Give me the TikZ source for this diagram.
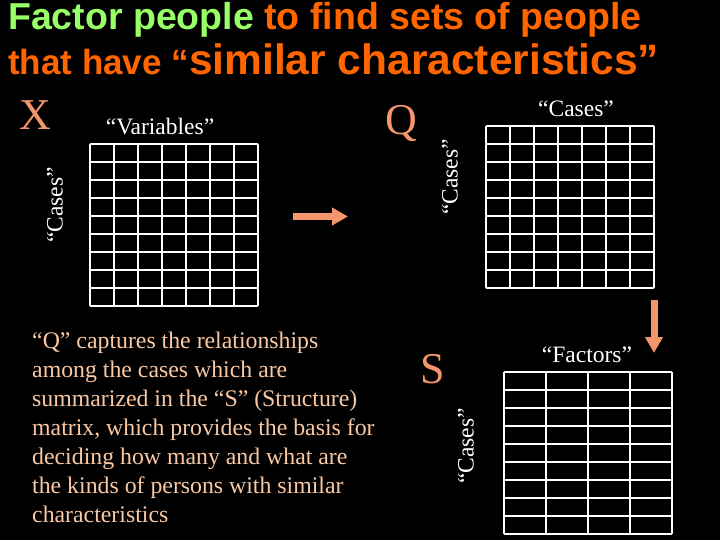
\documentclass[tikz,border=0pt]{standalone}
\usepackage{fontspec}
\setmainfont{Liberation Serif}
\newfontfamily\headfont{Liberation Sans}
\usetikzlibrary{positioning, arrows.meta}
\definecolor{salmonx}{RGB}{244,150,108}
\definecolor{peach}{RGB}{250,200,162}
\definecolor{headgreen}{RGB}{153,255,102}
\definecolor{headorange}{RGB}{255,102,0}
\tikzset{%
	letter/.style={text=salmonx, font=\fontsize{44}{44}\selectfont, inner sep=0pt, anchor=base},
	axis/.style={text=white, font=\fontsize{23.5}{26}\selectfont, inner sep=0pt},
	cell/.style={draw=white, line width=1.5pt},
	move/.style={draw=salmonx, line width=7pt, -{Triangle[length=16pt, width=17pt]}},
	head/.style={inner sep=0pt, anchor=base west, font=\headfont\bfseries}
}
\begin{document}
\begin{tikzpicture}[x=1pt, y=-1pt]
	\fill[black] (0,0) rectangle (720,540);
	\useasboundingbox (0,0) rectangle (720,540);
	% title
	\node[head] (title1) at (8,30) {\fontsize{37.5}{40}\selectfont\color{headgreen}Factor people \color{headorange}to find sets of people};
	\node[head, text=headorange] (title2) at (8,75) {\fontsize{35}{38}\selectfont that have “\fontsize{42.5}{44}\selectfont similar characteristics”};
	% matrix letters
	\node[letter] (X) at (35,130) {X};
	\node[letter] (Q) at (401,135) {Q};
	\node[letter] (S) at (433,383) {S};
	% grids
	\foreach \c in {0,...,7} \draw[cell] (90+\c*24,144) -- (90+\c*24,306);
	\foreach \r in {0,...,9} \draw[cell] (90,144+\r*18) -- (258,144+\r*18);
	\foreach \c in {0,...,7} \draw[cell] (486+\c*24,126) -- (486+\c*24,288);
	\foreach \r in {0,...,9} \draw[cell] (486,126+\r*18) -- (654,126+\r*18);
	\foreach \c in {0,...,4} \draw[cell] (504+\c*42,372) -- (504+\c*42,534);
	\foreach \r in {0,...,9} \draw[cell] (504,372+\r*18) -- (672,372+\r*18);
	% labels
	\node[axis, anchor=base] (xvars) at (160,135) {“Variables”};
	\node[axis, rotate=90] (xcases) at (55,205) {“Cases”};
	\node[axis, anchor=base] (qtop) at (576,117) {“Cases”};
	\node[axis, rotate=90] (qside) at (450,177) {“Cases”};
	\node[axis, anchor=base] (sfac) at (587,362) {“Factors”};
	\node[axis, rotate=90] (sside) at (466,446) {“Cases”};
	% arrows
	\coordinate (xout) at (293,216.5);
	\coordinate (qin) at (348,216.5);
	\coordinate (qout) at (654,300);
	\coordinate (sin) at (654,353);
	\draw[move] (xout) -- (qin);
	\draw[move] (qout) -- (sin);
	% note
	\node[inner sep=0pt, anchor=north west, align=left, text=peach, font=\fontsize{23.8}{29}\selectfont] (note) at (32,332) {“Q” captures the relationships\\among the cases which are\\summarized in the “S” (Structure)\\matrix, which provides the basis for\\deciding how many and what are\\the kinds of persons with similar\\characteristics};
\end{tikzpicture}
\end{document}
